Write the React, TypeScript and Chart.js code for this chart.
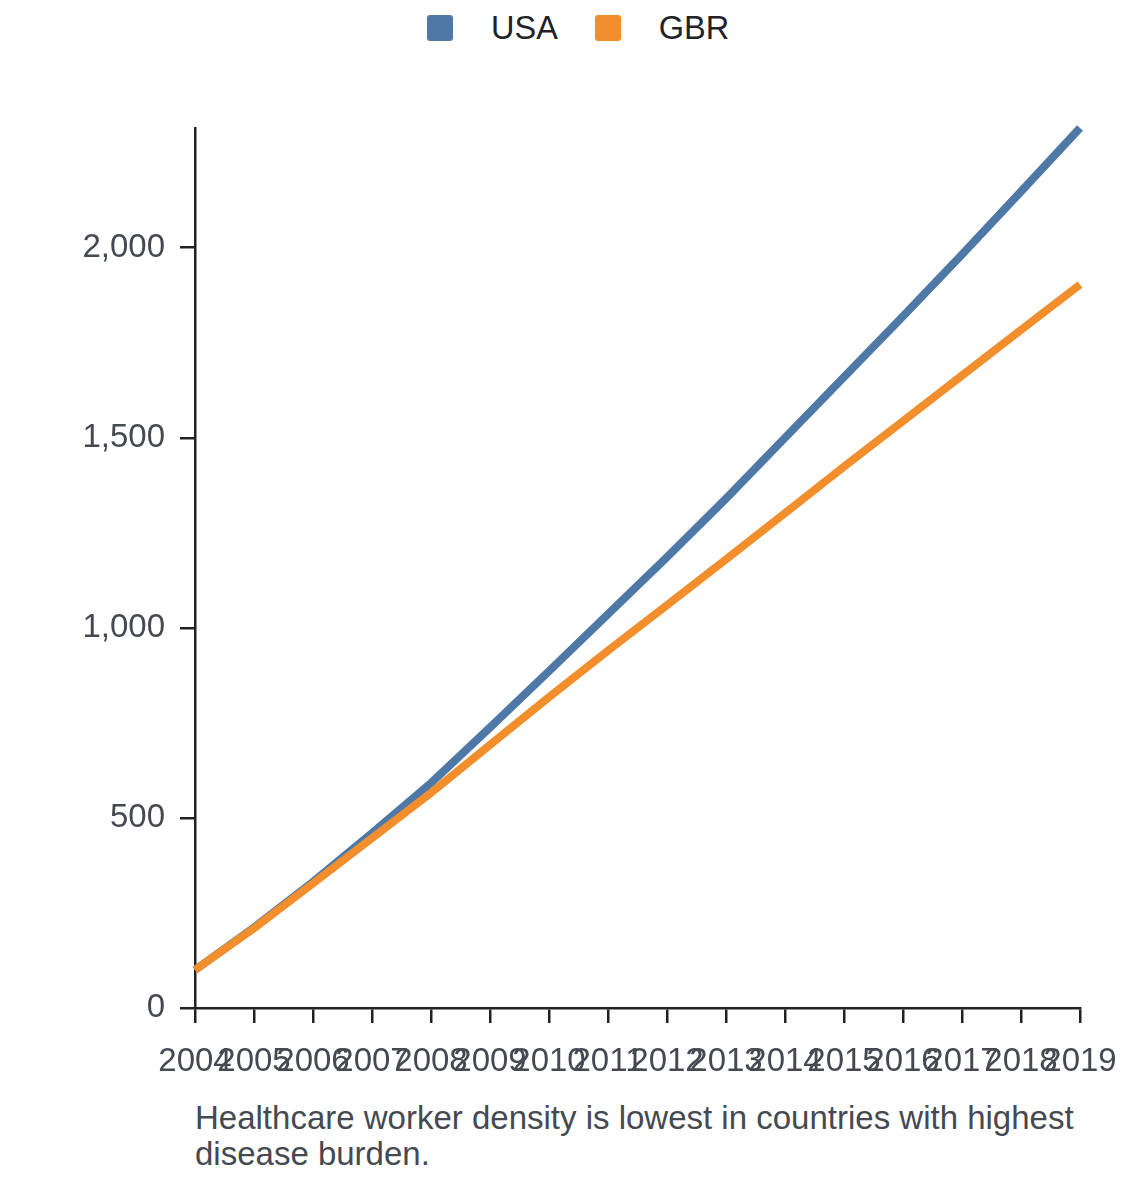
import React, { useEffect, useRef } from "react";
import { Chart, registerables } from "chart.js";

Chart.register(...registerables);

const years = ["2004","2005","2006","2007","2008","2009","2010","2011","2012","2013","2014","2015","2016","2017","2018","2019"];
const usaValues = [100, 212, 332, 460, 592, 738, 886, 1036, 1186, 1340, 1500, 1660, 1820, 1982, 2148, 2315];
const gbrValues = [100, 210, 328, 447, 566, 692, 818, 940, 1060, 1180, 1302, 1424, 1544, 1664, 1784, 1903];
const yTicks = [0, 500, 1000, 1500, 2000];
const seriesNames = ["USA", "GBR"];
const seriesColors = ["#4e79a7", "#f28e2b"];
const caption = "Healthcare worker density is lowest in countries with highest disease burden.";

const FONT = "'Liberation Sans', Arial, Helvetica, sans-serif";
const AXIS = "#222222";
const TEXT = "#454a52";

export default function App() {
  const ref = useRef<HTMLCanvasElement | null>(null);

  useEffect(() => {
    const canvas = ref.current;
    if (!canvas) return;
    const chart = new Chart(canvas, {
      type: "line",
      data: {
        labels: years,
        datasets: [
          {
            label: seriesNames[0],
            data: usaValues,
            borderColor: seriesColors[0],
            backgroundColor: seriesColors[0],
            borderWidth: 8,
            pointRadius: 0,
            tension: 0,
            clip: false as any,
            borderCapStyle: "butt",
            order: 2,
          },
          {
            label: seriesNames[1],
            data: gbrValues,
            borderColor: seriesColors[1],
            backgroundColor: seriesColors[1],
            borderWidth: 8,
            pointRadius: 0,
            tension: 0,
            clip: false as any,
            borderCapStyle: "butt",
            order: 1,
          },
        ],
      },
      options: {
        responsive: false,
        animation: false,
        devicePixelRatio: 1,
        layout: { padding: { left: 0, top: 68, right: 52, bottom: 0 } },
        plugins: {
          legend: { display: false },
          tooltip: { enabled: false },
          title: { display: false },
        },
        scales: {
          x: {
            type: "category",
            offset: false,
            grid: {
              display: true,
              drawOnChartArea: false,
              drawTicks: true,
              tickLength: 15,
              color: AXIS,
              lineWidth: 2.5,
            },
            border: { display: true, color: AXIS, width: 2.5 },
            ticks: {
              autoSkip: false,
              maxRotation: 0,
              minRotation: 0,
              padding: 19,
              color: TEXT,
              font: { family: FONT, size: 33 },
            },
            afterFit: (scale: any) => {
              scale.height = 80;
              scale.paddingLeft = 0;
              scale.paddingRight = 0;
            },
          },
          y: {
            type: "linear",
            min: 0,
            max: Math.max(...usaValues, ...gbrValues),
            afterBuildTicks: (scale: any) => {
              scale.ticks = yTicks.map((v) => ({ value: v }));
            },
            grid: {
              display: true,
              drawOnChartArea: false,
              drawTicks: true,
              tickLength: 15,
              color: AXIS,
              lineWidth: 2.5,
            },
            border: { display: true, color: AXIS, width: 2.5 },
            ticks: {
              includeBounds: false,
              padding: 15,
              color: TEXT,
              font: { family: FONT, size: 33 },
              callback: (v: any) => Number(v).toLocaleString("en-US"),
            },
            afterFit: (scale: any) => {
              scale.width = 187;
              scale.paddingTop = 0;
              scale.paddingBottom = 0;
            },
          },
        },
      },
    });
    return () => chart.destroy();
  }, []);

  const legendItem = (i: number) => (
    <div key={i} style={{ display: "flex", alignItems: "center", marginRight: i === 0 ? 37 : 0 }}>
      <div style={{ width: 26, height: 26, borderRadius: 3, background: seriesColors[i], marginRight: 38 }} />
      <div style={{ fontSize: 32.5, lineHeight: "26px", color: "#1f2328" }}>{seriesNames[i]}</div>
    </div>
  );

  return (
    <div style={{ position: "relative", width: 1124, height: 1166, fontFamily: FONT }}>
      <div style={{ position: "absolute", left: 419, top: 7, display: "flex", alignItems: "center" }}>
        {legendItem(0)}
        {legendItem(1)}
      </div>
      <div style={{ position: "absolute", left: 0, top: 52, width: 1124, height: 1028 }}>
        <canvas ref={ref} width={1124} height={1028} style={{ display: "block", width: 1124, height: 1028 }} />
      </div>
      <div
        style={{
          position: "absolute",
          left: 187,
          top: 1092,
          width: 900,
          fontSize: 33,
          lineHeight: "36px",
          color: TEXT,
        }}
      >
        {caption}
      </div>
    </div>
  );
}
